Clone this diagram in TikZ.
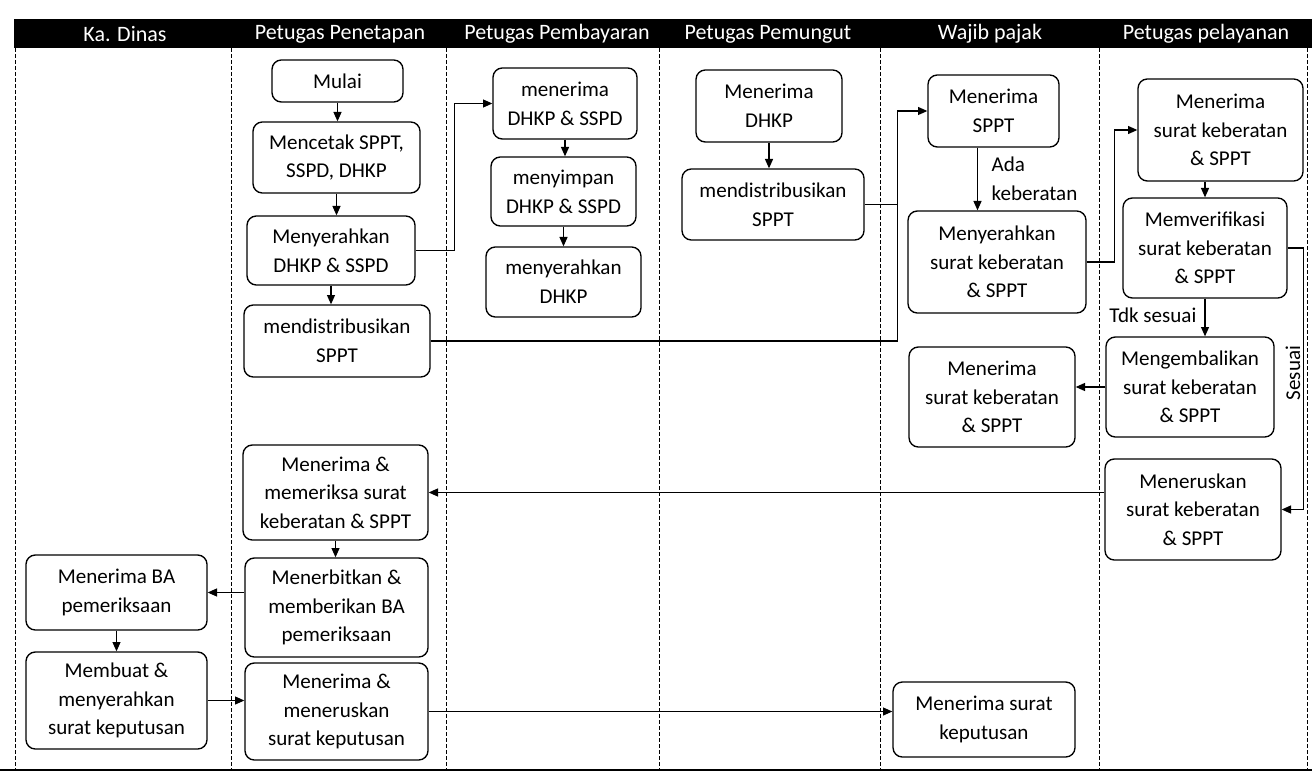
\documentclass[tikz,border=0pt]{standalone}
\usepackage{fontspec}
\setmainfont{Carlito}
\usetikzlibrary{arrows.meta,calc}
\tikzset{
  proc/.style={draw=black, line width=1pt, rounded corners=7pt, align=center, inner sep=2pt,
    font=\fontsize{15.8}{21.5}\selectfont},
  arr/.style={draw=black, line width=0.9pt, -{Triangle[length=7pt,width=6pt]}},
  link/.style={draw=black, line width=0.9pt},
  lane/.style={draw=black, line width=0.6pt, dash pattern=on 3pt off 1.5pt},
  head/.style={text=white, font=\fontsize{16.5}{19}\selectfont},
  lbl/.style={font=\fontsize{15.8}{21.5}\selectfont, align=left, inner sep=1pt}
}
\newcommand\flowbox[6]{%
  \node[proc, minimum width={(#4-#2)*0.75pt}, minimum height={(#5-#3)*0.75pt}]
    (#1) at ({(#2+#4)/2},{(#3+#5)/2}) {#6};}
\begin{document}
\begin{tikzpicture}[x=0.75pt,y=-0.75pt]
\useasboundingbox (0,0) rectangle (1312,784);
% header band
\fill[black] (14,19) rectangle (1312,48);
\node[head] (h1) at (125,34) {Ka. Dinas};
\node[head] (h2) at (340,34) {Petugas Penetapan};
\node[head] (h3) at (557,34) {Petugas Pembayaran};
\node[head] (h4) at (768,34) {Petugas Pemungut};
\node[head] (h5) at (990,34) {Wajib pajak};
\node[head] (h6) at (1206,34) {Petugas pelayanan};
% lanes
\foreach \lx in {15,231,446,659,880,1099,1307}
  \draw[lane] (\lx,48) -- (\lx,770);
\draw[black, line width=2pt] (0,770) -- (1312,770);
% Ka. Dinas
\flowbox{terBA}{26}{555}{207}{630}{Menerima BA\\pemeriksaan}
\flowbox{buat}{26}{652}{207}{749}{Membuat \&\\menyerahkan\\surat keputusan}
% Petugas Penetapan
\flowbox{mulai}{272}{60}{403}{102}{Mulai}
\flowbox{cetak}{253}{122}{420}{193}{Mencetak SPPT,\\SSPD, DHKP}
\flowbox{menyDH}{247}{216}{415}{285}{Menyerahkan\\DHKP \& SSPD}
\flowbox{distT}{244}{305}{430}{377}{mendistribusikan\\SPPT}
\flowbox{terPer}{243}{445}{428}{540}{Menerima \&\\memeriksa surat\\keberatan \& SPPT}
\flowbox{terbit}{245}{558}{428}{657}{Menerbitkan \&\\memberikan BA\\pemeriksaan}
\flowbox{terus}{245}{663}{428}{760}{Menerima \&\\meneruskan\\surat keputusan}
% Petugas Pembayaran
\flowbox{terDH}{493}{68}{637}{139}{menerima\\DHKP \& SSPD}
\flowbox{simpan}{491}{157}{636}{226}{menyimpan\\DHKP \& SSPD}
\flowbox{serahDH}{486}{247}{641}{317}{menyerahkan\\DHKP}
% Petugas Pemungut
\flowbox{terDHKP}{696}{70}{842}{142}{Menerima\\DHKP}
\flowbox{distP}{682}{169}{864}{240}{mendistribusikan\\SPPT}
% Wajib pajak
\flowbox{terSPPT}{928}{75}{1059}{147}{Menerima\\SPPT}
\flowbox{menyKB}{908}{211}{1086}{313}{Menyerahkan\\surat keberatan\\\& SPPT}
\flowbox{terKBw}{909}{347}{1075}{447}{Menerima\\surat keberatan\\\& SPPT}
\flowbox{terSK}{893}{682}{1075}{757}{Menerima surat\\keputusan}
% Petugas pelayanan
\flowbox{terKBp}{1138}{79}{1303}{181}{Menerima\\surat keberatan\\\& SPPT}
\flowbox{memv}{1123}{198}{1287}{298}{Memverifikasi\\surat keberatan\\\& SPPT}
\flowbox{meng}{1106}{337}{1274}{437}{Mengembalikan\\surat keberatan\\\& SPPT}
\flowbox{neru}{1105}{459}{1281}{560}{Meneruskan\\surat keberatan\\\& SPPT}
% connectors
\draw[arr] (mulai.south) -- (mulai.south |- cetak.north);
\draw[arr] (cetak.south) -- (cetak.south |- menyDH.north);
\draw[arr] (menyDH.south) -- (menyDH.south |- distT.north);
\draw[arr] (menyDH.east) -- ++(39,0) |- (terDH.west);
\draw[arr] (terDH.south) -- (terDH.south |- simpan.north);
\draw[arr] (simpan.south) -- (simpan.south |- serahDH.north);
\draw[arr] (terDHKP.south) -- (terDHKP.south |- distP.north);
\coordinate (j1) at ($(distP.east)+(33,0)$);
\draw[arr] (distP.east) -- (j1) |- (terSPPT.west);
\draw[link] (distT.east) -| (j1);
\draw[arr] ($(terSPPT.south)+(-16,0)$) -- ($(terSPPT.south |- menyKB.north)+(-16,0)$);
\node[lbl, anchor=west] (ada) at (990,179) {Ada\\keberatan};
\draw[arr] (menyKB.east) -- ++(28,0) |- (terKBp.west);
\draw[arr] (terKBp.south -| memv.north) -- (memv.north);
\draw[arr] (memv.south) -- (memv.south |- meng.north);
\node[lbl, anchor=east] (tdk) at (1198,315) {Tdk sesuai};
\draw[arr] (memv.east) -- ++(16,0) |- (neru.east);
\node[lbl, rotate=90] (ses) at (1293,373) {Sesuai};
\draw[arr] (meng.west) -- (meng.west -| terKBw.east);
\draw[arr] (neru.west |- terPer.east) -- (terPer.east);
\draw[arr] (terPer.south) -- (terPer.south |- terbit.north);
\draw[arr] (terBA.east -| terbit.west) -- (terBA.east);
\draw[arr] (terBA.south) -- (terBA.south |- buat.north);
\draw[arr] (buat.east) -- (buat.east -| terus.west);
\draw[arr] (terus.east) -- (terus.east -| terSK.west);
\end{tikzpicture}
\end{document}
